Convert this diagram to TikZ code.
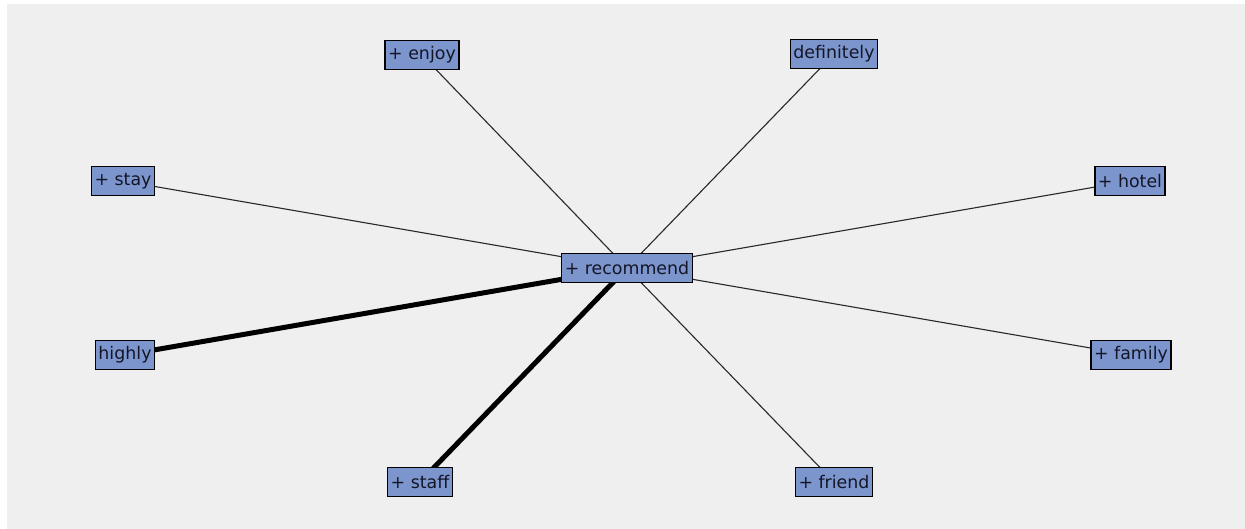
\documentclass[tikz,border=0pt]{standalone}
\usepackage{fontspec}
\setmainfont{DejaVu Sans}
\usetikzlibrary{backgrounds}
\definecolor{panel}{RGB}{239,239,239}
\definecolor{termfill}{RGB}{124,149,204}
\definecolor{termtext}{RGB}{20,22,40}
\definecolor{linkgray}{RGB}{40,40,40}
\begin{document}
\begin{tikzpicture}[x=1pt,y=-1pt,
  term/.style={draw=black,line width=1.4pt,fill=termfill,text=termtext,
    font=\fontsize{17.4}{18}\selectfont,inner xsep=3pt,inner ysep=3pt,
    minimum height=29pt},
  weak/.style={draw=linkgray,line width=1.1pt},
  strong/.style={draw=black,line width=5pt}]
  % terms
  \node[term] (rec) at (627,268) {+ recommend};
  \node[term] (enjoy) at (422,55) {+ enjoy};
  \node[term] (def) at (834,54) {definitely};
  \node[term] (stay) at (123,181) {+ stay};
  \node[term] (hotel) at (1130,181) {+ hotel};
  \node[term] (highly) at (125,355) {highly};
  \node[term] (family) at (1131,355) {+ family};
  \node[term] (staff) at (420,482) {+ staff};
  \node[term] (friend) at (834,482) {+ friend};
  \begin{pgfonlayer}{background}
    % canvas
    \fill[white] (0,0) rectangle (1245,529);
    \fill[panel] (7,4) rectangle (1245,529);
    % links, centre to centre, under the boxes
    \draw[weak] (rec.center) -- (enjoy.center);
    \draw[weak] (rec.center) -- (def.center);
    \draw[weak] (rec.center) -- (stay.center);
    \draw[weak] (rec.center) -- (hotel.center);
    \draw[weak] (rec.center) -- (family.center);
    \draw[weak] (rec.center) -- (friend.center);
    \draw[strong] (rec.center) -- (highly.center);
    \draw[strong] (rec.center) -- (staff.center);
  \end{pgfonlayer}
  \useasboundingbox (0,0) rectangle (1245,529);
\end{tikzpicture}
\end{document}
